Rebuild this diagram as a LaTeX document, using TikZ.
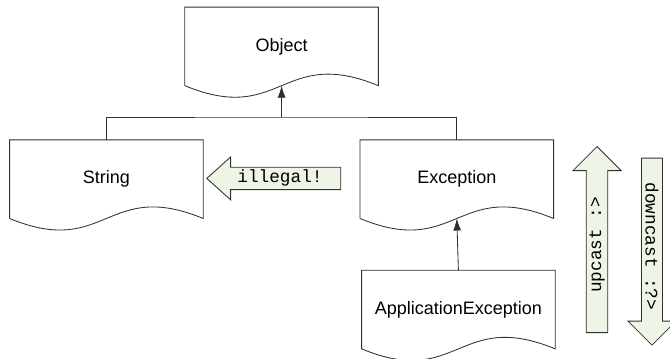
\documentclass[tikz,border=0pt]{standalone}
\usepackage{fontspec}
\setmainfont{Liberation Sans}
\setmonofont{Liberation Mono}
\usetikzlibrary{arrows.meta,shapes.arrows}
\definecolor{notegreen}{HTML}{EFF5E6}
\definecolor{edgegray}{HTML}{303030}

\begin{document}
\begin{tikzpicture}[every node/.style={font=\fontsize{12.8}{15}\selectfont},
    cls/.style={minimum width=4.825cm, minimum height=1.95cm, inner sep=0pt},
    outline/.style={draw=edgegray, line width=0.6pt},
    inherit/.style={outline, -{Latex[length=3mm,width=2mm]}},
    fat/.style={single arrow, draw=edgegray, fill=notegreen, line width=0.6pt,
      inner sep=0pt, single arrow head indent=0pt,
      font=\ttfamily\fontsize{12.6}{14}\selectfont}]
    \useasboundingbox (0,0) rectangle (16.75,8.95);
    % classes
    \node[cls] (obj) at (7.04,7.79) {Object};
    \node[cls] (str) at (2.66,4.47) {String};
    \node[cls] (exc) at (11.42,4.47) {Exception};
    \node[cls] (app) at (11.46,1.21) {ApplicationException};
    % document outlines
    \foreach \n in {obj,str,exc,app}
      \draw[outline] (\n.south west) -- (\n.north west) -- (\n.north east) -- (\n.south east)
        .. controls ([yshift=1cm]\n.south) and ([yshift=-1cm]\n.south) .. (\n.south west);
    % inheritance
    \coordinate (bus) at (7.04,6.025);
    \draw[outline] (str.north) |- (bus) -| (exc.north);
    \draw[inherit] (bus) -- (obj.south);
    \draw[inherit] (app.north) -- (exc.south);
    % casts
    \node[fat, shape border rotate=180, minimum height=3.35cm, minimum width=1.075cm,
      single arrow head extend=0.2cm, single arrow tip angle=84] (illegal) at (7.0,4.49) {illegal!};
    \node[fat, rotate=90, minimum height=4.65cm, minimum width=1.2cm,
      single arrow head extend=0.25cm] (upcast) at (14.925,2.825) {upcast :>};
    \node[fat, rotate=-90, minimum height=4.675cm, minimum width=1.2cm,
      single arrow head extend=0.225cm] (downcast) at (16.3,2.79) {downcast :?>};
\end{tikzpicture}
\end{document}
